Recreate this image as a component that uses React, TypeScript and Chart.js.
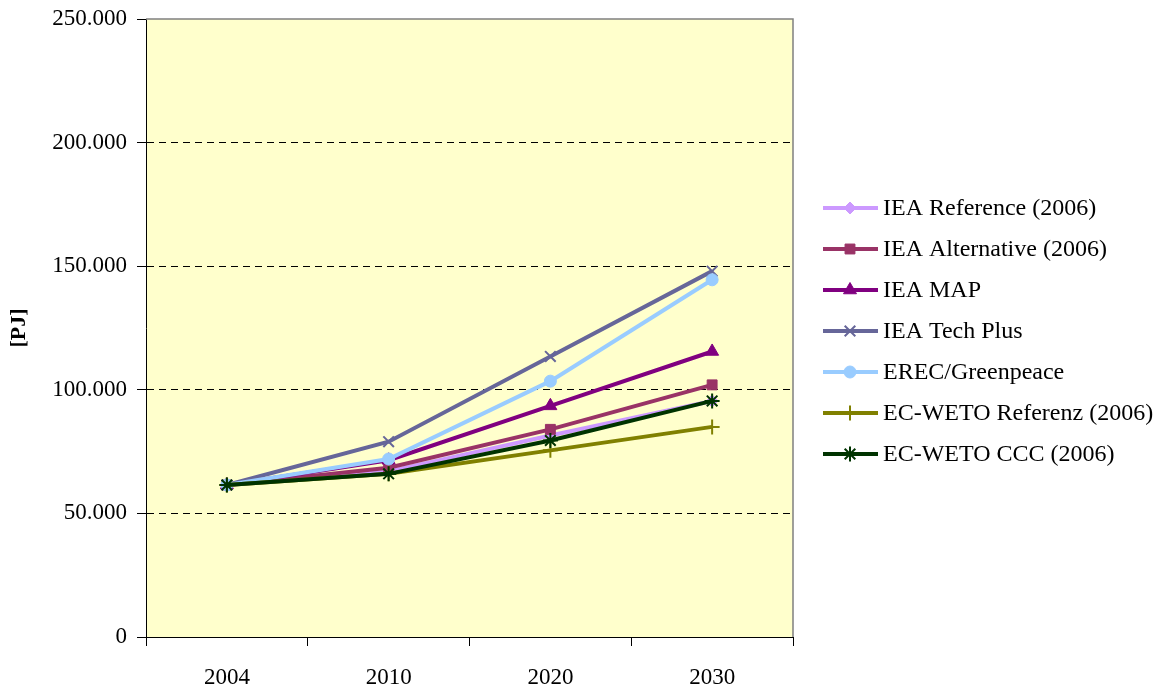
import React, { useEffect, useRef } from "react";
import { Chart, registerables } from "chart.js";
import { drawPoint } from "chart.js/helpers";

Chart.register(...registerables);

const years = ["2004", "2010", "2020", "2030"];
const ieaReference = [61500, 67000, 81500, 95500];
const ieaAlternative = [61500, 68500, 84000, 102000];
const ieaMap = [61500, 71500, 93500, 115500];
const ieaTechPlus = [61500, 79000, 113500, 148000];
const erecGreenpeace = [61500, 72000, 103500, 144500];
const ecWetoReferenz = [61500, 66000, 75500, 85000];
const ecWetoCcc = [61500, 66000, 79500, 95500];

const yTicks = [0, 50000, 100000, 150000, 200000, 250000];

const seriesDefs = [
  { label: "IEA Reference (2006)", data: ieaReference, color: "#CC99FF", style: "rectRot", radius: 6, bw: 1 },
  { label: "IEA Alternative (2006)", data: ieaAlternative, color: "#993366", style: "rect", radius: 7, bw: 1 },
  { label: "IEA MAP", data: ieaMap, color: "#800080", style: "triangle", radius: 7.5, bw: 1 },
  { label: "IEA Tech Plus", data: ieaTechPlus, color: "#666699", style: "crossRot", radius: 7.5, bw: 2 },
  { label: "EREC/Greenpeace", data: erecGreenpeace, color: "#99CCFF", style: "circle", radius: 6, bw: 1 },
  { label: "EC-WETO Referenz (2006)", data: ecWetoReferenz, color: "#808000", style: "cross", radius: 7.5, bw: 2 },
  { label: "EC-WETO CCC (2006)", data: ecWetoCcc, color: "#003300", style: "star", radius: 7.5, bw: 2 },
];

const fmt = (v: number) => {
  if (v === 0) return "0";
  return `${Math.round(v / 1000)}.000`;
};

export default function App() {
  const ref = useRef<HTMLCanvasElement | null>(null);

  useEffect(() => {
    document.body.style.margin = "0";
    const canvas = ref.current;
    if (!canvas) return;
    Chart.defaults.font.family = "'Liberation Serif', 'Times New Roman', serif";
    Chart.defaults.color = "#000";

    const bgPlugin = {
      id: "bgPlugin",
      beforeDraw(chart: any) {
        const { ctx, chartArea } = chart;
        ctx.save();
        ctx.fillStyle = "#FFFFFF";
        ctx.fillRect(0, 0, chart.width, chart.height);
        ctx.fillStyle = "#FFFFCC";
        ctx.fillRect(chartArea.left, chartArea.top, chartArea.right - chartArea.left, chartArea.bottom - chartArea.top);
        ctx.restore();
      },
      beforeDatasetsDraw(chart: any) {
        const { ctx, chartArea } = chart;
        ctx.save();
        ctx.strokeStyle = "#808080";
        ctx.lineWidth = 1.5;
        ctx.beginPath();
        ctx.moveTo(chartArea.left, chartArea.top);
        ctx.lineTo(chartArea.right, chartArea.top);
        ctx.lineTo(chartArea.right, chartArea.bottom);
        ctx.stroke();
        ctx.restore();
      },
    };

    const legendPlugin = {
      id: "customLegend",
      afterDraw(chart: any) {
        const ctx = chart.ctx;
        const x0 = chart.chartArea.right + 30;
        const y0 = 208;
        const step = 41;
        seriesDefs.forEach((s, i) => {
          const y = y0 + i * step;
          ctx.save();
          ctx.strokeStyle = s.color;
          ctx.lineWidth = 4;
          ctx.beginPath();
          ctx.moveTo(x0, y);
          ctx.lineTo(x0 + 55, y);
          ctx.stroke();
          ctx.fillStyle = s.color;
          ctx.strokeStyle = s.color;
          ctx.lineWidth = s.bw;
          drawPoint(ctx, { pointStyle: s.style as any, radius: s.radius, rotation: 0, borderWidth: s.bw } as any, x0 + 27, y);
          ctx.fillStyle = "#000";
          ctx.font = "24px 'Liberation Serif', 'Times New Roman', serif";
          ctx.textBaseline = "middle";
          ctx.textAlign = "left";
          ctx.fillText(s.label, x0 + 60, y + 1);
          ctx.restore();
        });
      },
    };

    const n = seriesDefs.length;
    const chart = new Chart(canvas, {
      type: "line",
      data: {
        labels: years,
        datasets: seriesDefs.map((s, i) => ({
          label: s.label,
          data: s.data,
          borderColor: s.color,
          backgroundColor: s.color,
          borderWidth: 4,
          pointStyle: s.style as any,
          pointRadius: s.radius,
          pointBorderWidth: s.bw,
          pointBackgroundColor: s.color,
          pointBorderColor: s.color,
          tension: 0,
          order: n - 1 - i,
        })),
      },
      options: {
        animation: false,
        responsive: false,
        devicePixelRatio: 1,
        layout: { padding: { top: 19, right: 370, left: 0, bottom: 0 } },
        plugins: {
          legend: { display: false },
          tooltip: { enabled: false },
        },
        scales: {
          x: {
            type: "category",
            offset: true,
            afterFit: (scale: any) => {
              scale.height = 50;
            },
            grid: {
              offset: true,
              drawOnChartArea: false,
              drawTicks: true,
              tickLength: 9,
              tickColor: "#000",
              tickWidth: 1,
            },
            border: { display: true, color: "#000", width: 1 },
            ticks: {
              padding: 18,
              color: "#000",
              font: { size: 23 },
              maxRotation: 0,
            },
          },
          y: {
            min: 0,
            max: 250000,
            afterFit: (scale: any) => {
              scale.width = 146;
              scale.paddingTop = 0;
              scale.paddingBottom = 0;
            },
            afterBuildTicks: (scale: any) => {
              scale.ticks = yTicks.map((v) => ({ value: v }));
            },
            grid: {
              color: (c: any) =>
                c.tick && (c.tick.value === 0 || c.tick.value === 250000) ? "rgba(0,0,0,0)" : "#000",
              lineWidth: 1,
              drawTicks: true,
              tickLength: 9,
              tickColor: "#000",
              tickWidth: 1,
              tickBorderDash: [],
            },
            border: { display: true, color: "#000", width: 1, dash: [7, 5] },
            ticks: {
              padding: 10,
              color: "#000",
              font: { size: 23 },
              callback: (v: any) => fmt(Number(v)),
            },
            title: {
              display: true,
              text: "[PJ]",
              color: "#000",
              font: { size: 22, weight: "bold" },
              padding: { top: 6, bottom: 0 },
            },
          },
        },
      },
      plugins: [bgPlugin, legendPlugin],
    });
    return () => chart.destroy();
  }, []);

  return <canvas ref={ref} width={1163} height={687} style={{ display: "block" }} />;
}
